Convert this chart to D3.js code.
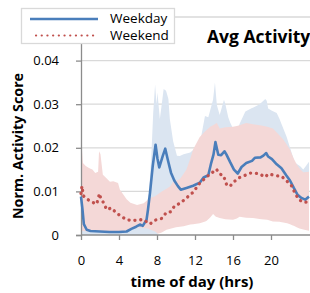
<!DOCTYPE html>
<html>
<head>
<meta charset="utf-8">
<script src="https://cdn.jsdelivr.net/npm/d3@7/dist/d3.min.js"></script>
<style>
  body { margin: 0; background: #fff; }
  svg { display: block; font-family: "Open Sans", sans-serif; }
</style>
</head>
<body>
<svg id="chart" width="310" height="293"></svg>
<script>
// hour of day, value pairs
var weekdayMean = [[0,0.0088],[0.15,0.006],[0.3,0.0025],[0.6,0.0012],[1,0.0009],[2,0.0008],[3,0.0007],[4,0.0007],[4.8,0.0008],[5.3,0.0014],[5.8,0.0019],[6.2,0.0024],[6.5,0.0021],[6.9,0.0035],[7.05,0.0058],[7.26,0.0096],[7.55,0.0158],[7.85,0.0207],[8.05,0.0175],[8.24,0.0155],[8.6,0.0181],[8.87,0.0198],[9.13,0.0173],[9.47,0.0143],[9.82,0.0125],[10.2,0.0112],[10.5,0.0104],[11.1,0.0108],[11.8,0.0113],[12.5,0.012],[12.9,0.0132],[13.4,0.0137],[13.7,0.0165],[13.95,0.0185],[14.15,0.0213],[14.45,0.0184],[14.75,0.0183],[15.1,0.0192],[15.3,0.0185],[15.7,0.0167],[16.1,0.015],[16.5,0.0141],[16.9,0.0156],[17.4,0.0165],[18,0.017],[18.3,0.0177],[18.9,0.0178],[19.2,0.0182],[19.5,0.0188],[19.7,0.018],[20.1,0.0174],[20.6,0.0162],[21.1,0.0153],[21.6,0.0137],[22,0.0125],[22.4,0.0108],[22.8,0.0092],[23.2,0.0085],[23.6,0.0081],[24,0.0088]];

var weekendMean = [[0,0.0095],[0.1,0.0112],[0.25,0.009],[0.6,0.0083],[1.1,0.0076],[1.65,0.0071],[1.95,0.0095],[2.1,0.0082],[2.35,0.0075],[2.7,0.0058],[3.2,0.0062],[3.75,0.005],[4.3,0.0042],[4.8,0.0035],[5.5,0.0033],[6.1,0.0035],[6.6,0.0035],[7.25,0.0025],[7.8,0.0034],[8.5,0.0038],[9,0.0052],[9.4,0.0053],[9.9,0.0068],[10.4,0.0072],[11.1,0.0085],[11.8,0.0098],[12.5,0.0119],[13.2,0.0133],[13.75,0.0142],[14.25,0.0151],[14.6,0.014],[15,0.0136],[15.35,0.0114],[15.7,0.0112],[16,0.012],[16.6,0.0131],[17.3,0.0137],[17.8,0.0142],[18.1,0.0142],[18.7,0.0141],[19.4,0.0133],[19.7,0.014],[20.6,0.0136],[21.1,0.0135],[21.7,0.0123],[22.2,0.0112],[22.5,0.0097],[22.9,0.0082],[23.4,0.0075],[24,0.0076]];

var weekdayHigh = [[0,0.012],[0.5,0.004],[1,0.002],[5,0.002],[6.5,0.005],[7,0.008],[7.16,0.0095],[7.4,0.018],[7.6,0.028],[7.8,0.0345],[7.95,0.03],[8.05,0.0327],[8.3,0.0266],[8.5,0.03],[8.7,0.0335],[8.95,0.0331],[9.2,0.0312],[9.35,0.0266],[9.7,0.0215],[10.1,0.0182],[10.4,0.0181],[10.8,0.0185],[11.5,0.0189],[12.5,0.0208],[13.05,0.0273],[13.4,0.027],[13.9,0.031],[14.1,0.035],[14.3,0.0298],[14.6,0.0275],[15.05,0.031],[15.2,0.03],[15.5,0.027],[15.7,0.0258],[16,0.0244],[16.5,0.0242],[16.7,0.0255],[17.3,0.0283],[17.8,0.0289],[18.1,0.0292],[18.8,0.03],[19.4,0.0312],[19.55,0.0308],[19.7,0.029],[20.1,0.0285],[20.6,0.028],[20.9,0.0266],[21.65,0.0225],[22,0.02],[22.5,0.0166],[23.05,0.0158],[23.4,0.015],[23.6,0.0156],[24,0.0168]];

var weekdayLow = [[0,0],[8,0],[8.2,0.0008],[9,0.003],[11,0.0045],[14,0.0065],[18,0.006],[21,0.005],[23,0.003],[24,0.0025]];

var weekendHigh = [[0,0.0125],[0.05,0.0212],[0.2,0.0165],[0.5,0.0158],[0.8,0.0154],[1.2,0.015],[1.5,0.0142],[1.8,0.0145],[1.9,0.0192],[2.05,0.0185],[2.3,0.0138],[2.6,0.0132],[3.05,0.0122],[3.4,0.0123],[3.9,0.0119],[4.1,0.0104],[4.45,0.0093],[4.8,0.0082],[5.2,0.0074],[5.9,0.0069],[6.6,0.0073],[7.26,0.0085],[7.8,0.0089],[8.5,0.01],[9,0.0106],[9.4,0.0112],[9.7,0.0122],[10.4,0.0128],[11.1,0.015],[11.5,0.0175],[11.8,0.0196],[12.5,0.0225],[13,0.0236],[13.6,0.0248],[14.3,0.0257],[14.6,0.0244],[15.2,0.0247],[16,0.0248],[16.7,0.0252],[17.4,0.0257],[18.1,0.0254],[18.8,0.0252],[19.6,0.0248],[20.2,0.0244],[20.9,0.0228],[21.3,0.0219],[22,0.0196],[22.4,0.0175],[22.7,0.0162],[23.1,0.015],[23.4,0.0144],[24,0.0145]];

var weekendLow = [[0,0.001],[1,0.0007],[4,0.0007],[5,0.001],[6,0.0018],[7,0.0015],[7.8,0.0008],[8.1,0.0003],[8.5,0.0006],[9,0.0012],[9.5,0.0015],[10,0.0018],[10.8,0.002],[11.5,0.0024],[12.5,0.0027],[13.2,0.0032],[13.6,0.004],[13.9,0.0048],[14.2,0.0042],[14.6,0.0039],[15.2,0.0036],[16,0.0035],[16.4,0.0038],[16.7,0.0042],[17.2,0.004],[18.1,0.0039],[19,0.0036],[19.6,0.0035],[20.2,0.0031],[21,0.003],[21.7,0.0027],[22.3,0.0022],[23,0.0015],[23.5,0.0012],[24,0.001]];

var xTicks = [0,4,8,12,16,20];
var yTicks = [0,0.01,0.02,0.03,0.04,0.05];
var seriesNames = ["Weekday","Weekend"];

var blue = "#4a7ebb", red = "#c0504d";

var svg = d3.select("#chart");
var x = d3.scaleLinear().domain([0,24]).range([81,309]);
var y = d3.scaleLinear().domain([0,0.05]).range([235,17]);

// gridlines
svg.append("g").selectAll("line")
  .data(yTicks.filter(function(d){ return d > 0; }))
  .enter().append("line")
  .attr("x1", x(0)).attr("x2", 310)
  .attr("y1", function(d){ return y(d); }).attr("y2", function(d){ return y(d); })
  .attr("stroke", "#d9d9d9").attr("stroke-width", 1.3);

// merge low and high onto the same hours
function band(high, low) {
  var lo = d3.scaleLinear().domain(low.map(function(d){return d[0];})).range(low.map(function(d){return d[1];}));
  var hi = d3.scaleLinear().domain(high.map(function(d){return d[0];})).range(high.map(function(d){return d[1];}));
  var hours = Array.from(new Set(high.map(function(d){return d[0];}).concat(low.map(function(d){return d[0];})))).sort(d3.ascending);
  return hours.map(function(h){ return {h: h, lo: lo(h), hi: hi(h)}; });
}

var area = d3.area()
  .x(function(d){ return x(d.h); })
  .y0(function(d){ return y(d.lo); })
  .y1(function(d){ return y(d.hi); });

svg.append("path").datum(band(weekdayHigh, weekdayLow))
  .attr("d", area).attr("fill", "#dbe5f1");
svg.append("path").datum(band(weekendHigh, weekendLow))
  .attr("d", area).attr("fill", "#f4d8d7");

// axes
var yAxis = svg.append("g").attr("transform", "translate(" + x(0) + ",0)")
  .call(d3.axisLeft(y).tickValues(yTicks).tickSize(5).tickPadding(17)
    .tickFormat(function(d){ return d === 0 ? "0" : d3.format(".2f")(d); }));
var xAxis = svg.append("g").attr("transform", "translate(0," + y(0) + ")")
  .call(d3.axisBottom(x).tickValues(xTicks).tickSize(5).tickPadding(16).tickSizeOuter(0));

[yAxis, xAxis].forEach(function(a){
  a.select(".domain").attr("stroke", "#8c8c8c").attr("stroke-width", 1.3);
  a.selectAll(".tick line").attr("stroke", "#8c8c8c").attr("stroke-width", 1.3);
  a.selectAll("text").attr("font-size", 13).attr("fill", "#000").attr("font-family", "'Open Sans', sans-serif");
});
xAxis.select(".domain").attr("d", "M" + x(0) + ",0H310");

var line = d3.line()
  .x(function(d){ return x(d[0]); })
  .y(function(d){ return y(d[1]); });

svg.append("path").datum(weekdayMean)
  .attr("d", line).attr("fill", "none")
  .attr("stroke", blue).attr("stroke-width", 2.6).attr("stroke-linejoin", "round");
svg.append("path").datum(weekendMean)
  .attr("d", line).attr("fill", "none")
  .attr("stroke", red).attr("stroke-width", 3.3)
  .attr("stroke-linecap", "round").attr("stroke-dasharray", "0.1 5.8");

// axis titles
svg.append("text")
  .attr("x", 192).attr("y", 287)
  .attr("text-anchor", "middle").attr("font-size", 15).attr("font-weight", "bold")
  .text("time of day (hrs)");
svg.append("text")
  .attr("transform", "translate(23,146) rotate(-90)")
  .attr("text-anchor", "middle").attr("font-size", 14.3).attr("font-weight", "bold")
  .text("Norm. Activity Score");

// title
svg.append("text")
  .attr("x", 207).attr("y", 43)
  .attr("font-size", 17.5).attr("font-weight", "bold")
  .text("Avg Activity");

// legend
var legend = svg.append("g");
legend.append("rect")
  .attr("x", 21.5).attr("y", 8.5).attr("width", 153).attr("height", 35)
  .attr("fill", "#fff").attr("stroke", "#d9d9d9").attr("stroke-width", 1.3);
legend.append("line")
  .attr("x1", 30).attr("x2", 98).attr("y1", 19).attr("y2", 19)
  .attr("stroke", blue).attr("stroke-width", 2.6);
legend.append("line")
  .attr("x1", 36).attr("x2", 98).attr("y1", 35.5).attr("y2", 35.5)
  .attr("stroke", red).attr("stroke-width", 2.2)
  .attr("stroke-linecap", "round").attr("stroke-dasharray", "0.1 5.6");
legend.selectAll("text.lg").data(seriesNames).enter().append("text")
  .attr("x", 110).attr("y", function(d, i){ return 18.5 + i * 17; })
  .attr("dy", "0.35em").attr("font-size", 13.5)
  .text(function(d){ return d; });
</script>
</body>
</html>
